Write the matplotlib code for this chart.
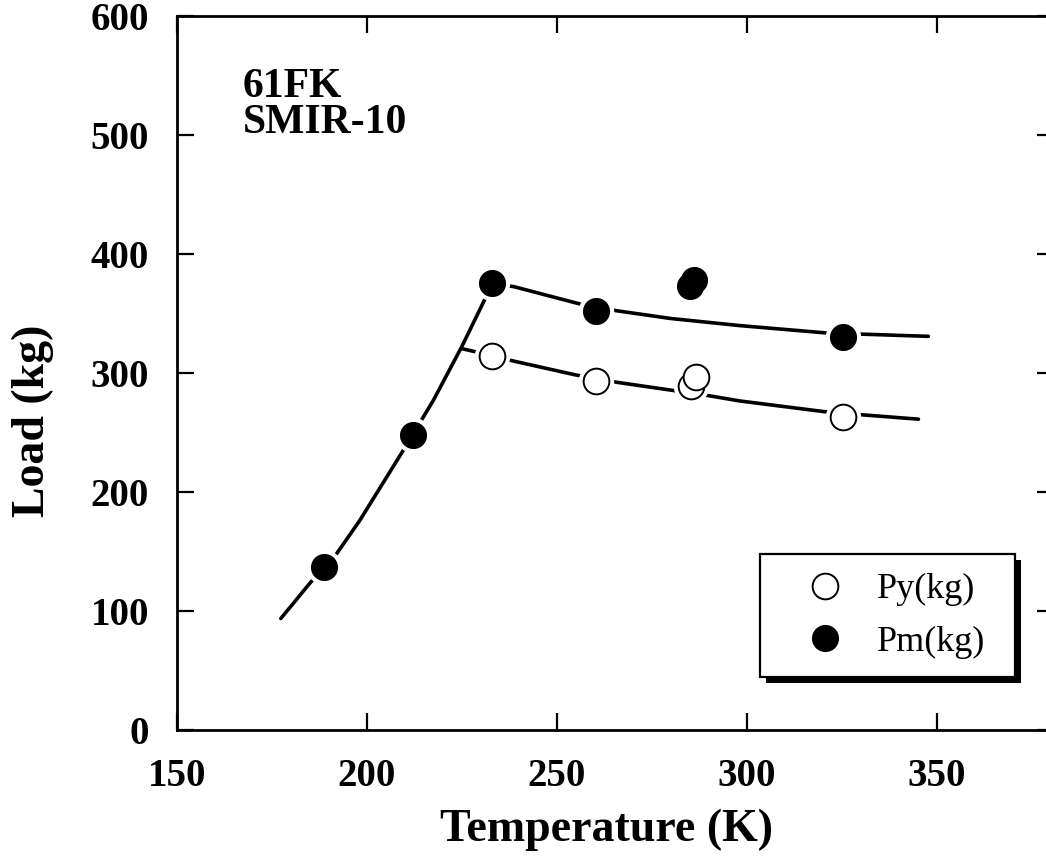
import matplotlib
matplotlib.use("Agg")
import matplotlib.pyplot as plt
from matplotlib.patches import Rectangle

# ---- data ----
pm_T = [188.8, 212.3, 233.1, 260.3, 285.1, 286.1, 325.4]
pm_L = [137.0, 248.1, 375.3, 352.3, 373.3, 378.4, 330.5]

py_T = [233.1, 260.3, 285.3, 286.7, 325.4]
py_L = [314.0, 293.6, 289.4, 296.4, 263.4]

# fitted curves
fit_low_T = [177.4, 185.1, 192.1, 198.2, 209.6, 217.5, 225.0, 231.1, 233.1]
fit_low_L = [93.7, 123.6, 148.2, 176.2, 234.9, 276.8, 322.0, 362.0, 375.3]

fit_pm_T = [233.1, 238.8, 256.1, 265.8, 280.0, 298.3, 321.1, 328.9, 347.8]
fit_pm_L = [375.3, 372.5, 358.0, 352.3, 345.8, 339.8, 333.6, 332.8, 330.8]

fit_py_T = [225.0, 233.1, 237.3, 254.8, 265.8, 279.2, 289.5, 298.2, 320.2, 329.8, 345.2]
fit_py_L = [320.5, 314.5, 311.0, 298.5, 292.2, 286.0, 281.2, 276.5, 267.6, 265.0, 261.2]

x_ticks = [150, 200, 250, 300, 350]
y_ticks = [0, 100, 200, 300, 400, 500, 600]

FONT = "Liberation Serif"

fig = plt.figure(figsize=(10.46, 8.6), dpi=100)
W, H = 1046, 860
x0, x1 = 176.7, 1054.0
y0, y1 = 730.0, 16.0
ax = fig.add_axes([x0 / W, (H - y0) / H, (x1 - x0) / W, (y0 - y1) / H])

lw = 2.6
ax.plot(fit_low_T, fit_low_L, color="black", lw=lw, solid_capstyle="round", zorder=2)
ax.plot(fit_pm_T, fit_pm_L, color="black", lw=lw, solid_capstyle="round", zorder=2)
ax.plot(fit_py_T, fit_py_L, color="black", lw=lw, solid_capstyle="round", zorder=2)

# white halos that break the curves around markers
ms = 18.5
ax.plot(pm_T, pm_L, ls="none", marker="o", ms=ms + 7, mfc="white", mec="none", zorder=3)
ax.plot(py_T, py_L, ls="none", marker="o", ms=ms + 7, mfc="white", mec="none", zorder=3)

ax.plot(py_T, py_L, ls="none", marker="o", ms=ms, mfc="white", mec="black", mew=1.4,
        zorder=4, label="Py(kg)")
ax.plot(pm_T, pm_L, ls="none", marker="o", ms=ms, mfc="black", mec="black", mew=1.0,
        zorder=4, label="Pm(kg)")

ax.set_xlim(150, 150 + (x1 - x0) / 3.8)
ax.set_ylim(0, 600)
ax.set_xticks(x_ticks)
ax.set_yticks(y_ticks)
ax.set_xticklabels([str(v) for v in x_ticks])
ax.set_yticklabels([str(v) for v in y_ticks])

for s in ax.spines.values():
    s.set_linewidth(2.0)

ax.tick_params(axis="both", direction="in", length=12, width=1.6,
               top=True, right=True, labelsize=28)
ax.tick_params(axis="x", pad=20)
ax.tick_params(axis="y", pad=20)
for lab in ax.get_xticklabels() + ax.get_yticklabels():
    lab.set_fontfamily(FONT)
    lab.set_fontweight("bold")

ax.set_xlabel("Temperature (K)", fontfamily=FONT, fontweight="bold", fontsize=33)
ax.set_ylabel("Load (kg)", fontfamily=FONT, fontweight="bold", fontsize=33)
ax.xaxis.set_label_coords(0.49, -0.11)
ax.yaxis.set_label_coords(-0.140, 0.433)

ax.text(0.0756, 0.927, "61FK\nSMIR-10", transform=ax.transAxes, ha="left", va="top",
        fontfamily=FONT, fontweight="bold", fontsize=30, linespacing=0.92)

leg = ax.legend(loc="lower left",
                bbox_to_anchor=(0.665, 0.0742, 0.2905, 0.1708),
                mode="expand", fancybox=False, framealpha=1,
                prop={"family": FONT, "size": 26},
                borderpad=0.51, labelspacing=0.53, handlelength=2.6,
                handletextpad=0.12, borderaxespad=0)
leg.get_frame().set_edgecolor("black")
leg.get_frame().set_linewidth(1.6)
leg.set_zorder(6)

fig.canvas.draw()
bb = leg.get_window_extent(fig.canvas.get_renderer())
inv = ax.transAxes.inverted()
(ax0, ay0), (ax1, ay1) = inv.transform([[bb.x0 + 6, bb.y0 - 6], [bb.x1 + 6, bb.y1 - 6]])
ax.add_patch(Rectangle((ax0, ay0), ax1 - ax0, ay1 - ay0, transform=ax.transAxes,
                       facecolor="black", edgecolor="none", clip_on=False, zorder=5.5))

fig.savefig("out.png", dpi=100)
